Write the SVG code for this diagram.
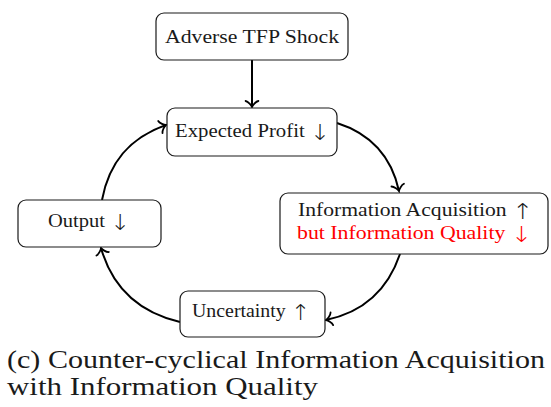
<svg xmlns="http://www.w3.org/2000/svg" width="551" height="407" viewBox="0 0 551 407">
  <style>
    .box { fill: #ffffff; stroke: #1a1a1a; stroke-width: 1.2; }
    .lbl { font-family: "Liberation Serif", "Times New Roman", serif; font-size: 19px; fill: #1a1a1a; }
    .arr { font-family: "DejaVu Sans", sans-serif; font-weight: 200; font-size: 22px; }
    .red { fill: #ff0000; }
    .cap { font-family: "Liberation Serif", "Times New Roman", serif; font-size: 26px; fill: #1a1a1a; }
    .edge { fill: none; stroke: #000000; stroke-width: 2; marker-end: url(#tip); }
  </style>
  <defs>
    <marker id="tip" markerUnits="userSpaceOnUse" viewBox="-9 -9 12 18" refX="0" refY="0" markerWidth="12" markerHeight="18" orient="auto" overflow="visible">
      <path d="M-6,-6.4 C-5.5,-3.8 -1.6,-0.5 0,0 C-1.6,0.5 -5.5,3.8 -6,6.4" fill="none" stroke="#000000" stroke-width="1.8" stroke-linecap="round"/>
    </marker>
  </defs>

  <!-- connectors -->
  <g id="connectors">
    <path class="edge" d="M252,60 L252,107"/>
    <path class="edge" d="M337,123 C371.3,133.9 391.3,155.8 399,191"/>
    <path class="edge" d="M400,254 C387.5,291 363.3,312.3 326,320"/>
    <path class="edge" d="M180,322 C138.2,312.2 112.4,288.1 101,248"/>
    <path class="edge" d="M102,200 C109,162 129.6,137.9 166,125"/>
  </g>

  <!-- nodes -->
  <g id="shock">
    <rect class="box" x="156" y="13" width="192" height="47" rx="8"/>
    <text class="lbl" x="165" y="43" textLength="174" lengthAdjust="spacingAndGlyphs">Adverse TFP Shock</text>
  </g>
  <g id="profit">
    <rect class="box" x="167" y="108" width="170" height="48" rx="8"/>
    <text class="lbl" x="175" y="137" textLength="155" lengthAdjust="spacingAndGlyphs">Expected Profit <tspan class="arr" dy="3">↓</tspan></text>
  </g>
  <g id="info">
    <rect class="box" x="280" y="193" width="268" height="61" rx="8"/>
    <text class="lbl" x="298" y="216" textLength="235" lengthAdjust="spacingAndGlyphs">Information Acquisition <tspan class="arr" dy="3">↑</tspan></text>
    <text class="lbl red" x="297" y="239" textLength="235" lengthAdjust="spacingAndGlyphs">but Information Quality <tspan class="arr" dy="3">↓</tspan></text>
  </g>
  <g id="uncertainty">
    <rect class="box" x="180" y="291" width="145" height="46" rx="8"/>
    <text class="lbl" x="192" y="317" textLength="118" lengthAdjust="spacingAndGlyphs">Uncertainty <tspan class="arr" dy="3">↑</tspan></text>
  </g>
  <g id="output">
    <rect class="box" x="18" y="200" width="143" height="47" rx="8"/>
    <text class="lbl" x="48" y="227" textLength="82" lengthAdjust="spacingAndGlyphs">Output <tspan class="arr" dy="3">↓</tspan></text>
  </g>

  <!-- caption -->
  <g id="caption">
    <text class="cap" x="7" y="368" textLength="538" lengthAdjust="spacingAndGlyphs">(c) Counter-cyclical Information Acquisition</text>
    <text class="cap" x="7" y="395" textLength="311" lengthAdjust="spacingAndGlyphs">with Information Quality</text>
  </g>
</svg>
